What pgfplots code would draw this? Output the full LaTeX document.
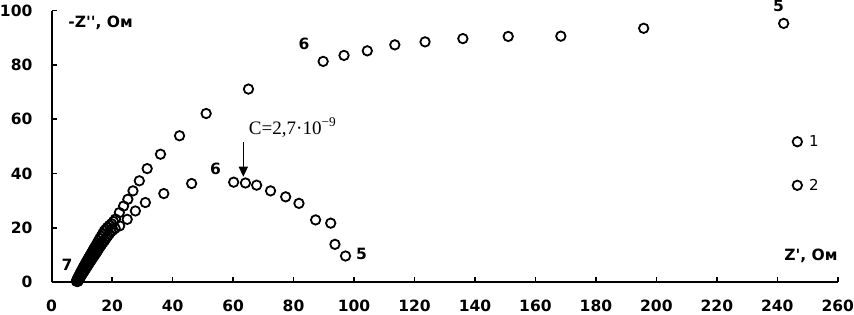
\documentclass[border=0pt]{standalone}
\usepackage{pgfplots}
\pgfplotsset{compat=1.18}
\usetikzlibrary{arrows.meta}
\usepackage{fontspec}
\setmainfont{DejaVu Sans}
\newfontfamily\labfont{DejaVu Sans}[Ligatures=TeXOff]
\newfontfamily\serifC{Liberation Serif}
\begin{document}
\begin{tikzpicture}
\begin{axis}[
 scale only axis, width=785bp, height=271bp,
 xmin=0, xmax=260, ymin=0, ymax=100,
 axis lines*=left,
 axis line style={line width=1.8bp},
 xtick={0,20,...,260}, ytick={0,20,...,100},
 tick align=inside,
 major tick length=5bp,
 every tick/.style={black, line width=1.5bp},
 ticklabel style={font=\fontsize{15.5bp}{18bp}\selectfont\bfseries, inner sep=0pt},
 /pgf/number format/assume math mode=true,
 xticklabel style={yshift=-18bp, text depth=2.5bp},
 yticklabel style={xshift=-19bp},
 clip=false,
 legend style={draw=none, fill=none, at={(axis cs:245.0,54.8)}, anchor=north west,
   font=\fontsize{15bp}{18bp}\selectfont, row sep=27bp, inner sep=0pt},
 legend cell align=left,
]
\addplot[only marks, mark=o, mark size=4.7bp, line width=1.8bp, black] coordinates {
(8.2,0.3)(8.3,0.55)(8.4,0.8)(8.5,1.05)(8.6,1.3)(8.75,1.6)(8.9,1.9)(9.05,2.25)(9.2,2.6)(9.35,2.95)(9.5,3.3)(9.7,3.7)(9.9,4.1)(10.1,4.55)(10.3,5.0)(10.55,5.5)(10.8,6.0)(11.05,6.5)(11.3,7.0)
(11.6,7.6)(11.9,8.2)(12.2,8.8)(12.5,9.4)(12.85,10.05)(13.2,10.7)(13.55,11.4)(13.9,12.1)(14.3,12.85)(14.7,13.6)(15.1,14.4)(15.5,15.2)(15.95,16.05)(16.4,16.9)(16.9,17.85)(17.4,18.8)(17.95,19.5)(18.5,20.2)(19.15,20.9)(19.8,21.5)
(20.45,22.3)(21.1,23.2)(22.4,25.6)(23.8,28.0)(25.2,30.5)(26.9,33.6)(29.0,37.3)(31.6,41.8)(36.0,47.1)(42.3,53.9)(51.1,62.1)
(65.1,71.1)(89.8,81.3)(96.7,83.5)(104.4,85.2)(113.5,87.4)(123.5,88.5)(136.0,89.7)(151.0,90.5)(168.4,90.6)(195.8,93.5)
(242.1,95.3)
};
\addlegendentry{\hspace{5bp}1}
\addplot[only marks, mark=o, mark size=4.7bp, line width=1.8bp, black] coordinates {
(8.6,0.2)(8.7,0.4)(8.8,0.6)(8.9,0.8)(9.0,1.0)(9.15,1.25)(9.3,1.5)(9.45,1.8)(9.6,2.1)(9.8,2.45)(10.0,2.8)(10.2,3.15)(10.4,3.5)(10.65,3.9)(10.9,4.3)(11.15,4.75)(11.4,5.2)(11.7,5.7)(12.0,6.2)
(12.3,6.75)(12.6,7.3)(12.95,7.85)(13.3,8.4)(13.65,9.0)(14.0,9.6)(14.4,10.25)(14.8,10.9)(15.2,11.6)(15.6,12.3)(16.05,13.05)(16.5,13.8)(17.0,14.55)(17.5,15.3)(18.0,16.1)(18.5,16.9)(19.05,17.7)(19.6,18.5)(20.3,19.15)(21.0,19.8)
(22.5,20.7)(25.0,23.1)(27.7,26.2)(31.0,29.3)(37.1,32.6)(46.3,36.3)(60.2,36.8)(64.1,36.5)(67.8,35.7)(72.4,33.6)
(77.4,31.4)(81.8,29.0)(87.3,22.9)(92.3,21.7)(93.7,13.9)(97.2,9.6)
};
\addlegendentry{\hspace{5bp}2}
\node[font=\fontsize{15.5bp}{18bp}\selectfont\bfseries] at (axis cs:5.1,6.5) {7};
\node[font=\fontsize{15.5bp}{18bp}\selectfont\bfseries] at (axis cs:54.2,41.8) {6};
\node[font=\fontsize{15.5bp}{18bp}\selectfont\bfseries] at (axis cs:102.5,10.2) {5};
\node[font=\fontsize{15.5bp}{18bp}\selectfont\bfseries] at (axis cs:83.5,87.7) {6};
\node[font=\fontsize{15.5bp}{18bp}\selectfont\bfseries, inner sep=0pt] at (axis cs:240.4,101.8) {5};
\node[anchor=west, inner sep=0pt, font=\labfont\fontsize{15.5bp}{18bp}\selectfont\bfseries] at (axis cs:5.5,95.5) {-Z'', Ом};
\node[anchor=east, inner sep=0pt, font=\labfont\fontsize{15.5bp}{18bp}\selectfont\bfseries] at (axis cs:260,9.8) {Z', Ом};
\draw[line width=1.5bp, -{Triangle[width=9bp,length=10bp]}] (axis cs:63.4,51.6) -- (axis cs:63.4,38.8);
\node[anchor=base west, inner sep=0pt, font=\serifC\fontsize{19bp}{22bp}\selectfont] at (axis cs:65.2,54.5) {C=2,7·10\textsuperscript{−9}};
\end{axis}
\end{tikzpicture}
\end{document}
